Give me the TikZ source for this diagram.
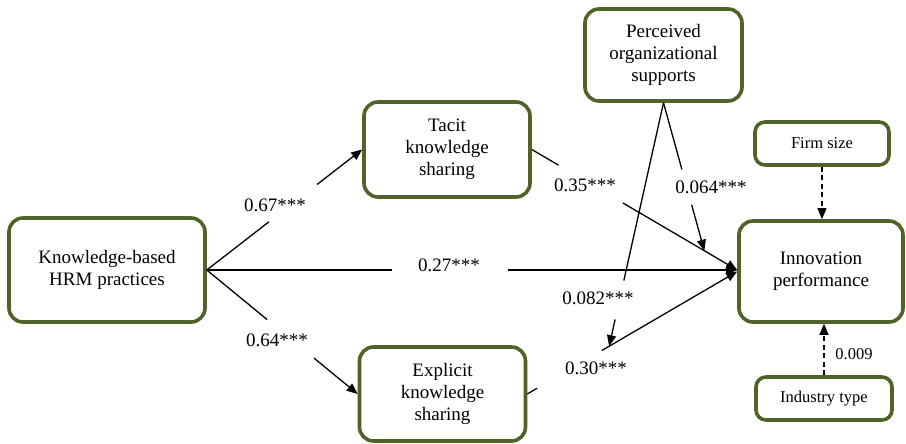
\documentclass[tikz,border=0pt]{standalone}
\usepackage{fontspec}
\setmainfont{Liberation Serif}
\usetikzlibrary{arrows.meta,calc}
\definecolor{boxgreen}{RGB}{79,98,40}
\begin{document}
\begin{tikzpicture}[x=1pt,y=-1pt,
  box/.style={draw=boxgreen, line width=3.6pt, rounded corners=14pt, fill=white, align=center, inner sep=2pt, font=\fontsize{19}{22}\selectfont},
  smallbox/.style={box, rounded corners=10pt, font=\fontsize{16.5}{19}\selectfont},
  conn/.style={line width=1.3pt, black},
  tip/.style={-{Triangle[length=11pt,width=9pt]}},
  dashline/.style={dash pattern=on 5pt off 3.5pt},
  lbl/.style={font=\fontsize{19}{22}\selectfont, inner sep=0pt},
  slbl/.style={font=\fontsize{16.5}{19}\selectfont, inner sep=0pt}]
\useasboundingbox (0,0) rectangle (906,444);

% boxes
\node[box, minimum width=196pt, minimum height=104pt] (hrm) at (107,270) {Knowledge-based\\HRM practices};
\node[box, minimum width=166pt, minimum height=95pt] (tacit) at (447,149.5) {Tacit\\knowledge\\sharing};
\node[box, minimum width=166pt, minimum height=94pt] (expl) at (442.5,394) {Explicit\\knowledge\\sharing};
\node[box, minimum width=157pt, minimum height=92pt] (perc) at (663.5,55) {Perceived\\organizational\\supports};
\node[box, minimum width=164pt, minimum height=101pt] (innov) at (821,271.5) {Innovation\\performance};
\node[smallbox, minimum width=134pt, minimum height=43pt] (firm) at (822,143.5) {Firm size};
\node[smallbox, minimum width=136pt, minimum height=43pt] (ind) at (824,398.5) {Industry type};

\coordinate (iw) at (hrm.east -| innov.west);

% HRM -> tacit
\draw[conn] (hrm.east) -- ($(hrm.east)!0.40!(tacit.west)$);
\draw[conn,tip] ($(hrm.east)!0.71!(tacit.west)$) -- (tacit.west);
\node[lbl] (l1) at (275,205) {0.67***};

% HRM -> explicit
\draw[conn] (hrm.east) -- ($(hrm.east)!0.40!(expl.west)$);
\draw[conn,tip] ($(hrm.east)!0.71!(expl.west)$) -- (expl.west);
\node[lbl] (l2) at (277,340) {0.64***};

% HRM -> innovation
\draw[conn] (hrm.east) -- ($(hrm.east)!0.35!(iw)$);
\draw[conn,tip] ($(hrm.east)!0.567!(iw)$) -- (iw);
\node[lbl] (l3) at (449,265) {0.27***};

% tacit -> innovation
\draw[conn] (tacit.east) -- ($(tacit.east)!0.13!(iw)$);
\draw[conn,tip] ($(tacit.east)!0.444!(iw)$) -- (iw);
\node[lbl] (l4) at (585,185) {0.35***};

% explicit -> innovation
\draw[conn] (expl.east) -- ($(expl.east)!0.047!(innov.west)$);
\draw[conn,tip] ($(expl.east)!0.355!(innov.west)$) -- (innov.west);
\node[lbl] (l5) at (596,368) {0.30***};

% moderation
\coordinate (m1) at ($(tacit.east)!0.84!(iw)$);
\coordinate (m2) at ($(expl.east)!0.39!(innov.west)$);
\draw[conn] (perc.south) -- ($(perc.south)!0.45!(m1)$);
\draw[conn,tip] ($(perc.south)!0.69!(m1)$) -- (m1);
\node[lbl] (l6) at (711,187) {0.064***};
\draw[conn] (perc.south) -- ($(perc.south)!0.73!(m2)$);
\draw[conn,tip] ($(perc.south)!0.89!(m2)$) -- (m2);
\node[lbl] (l7) at (598,298) {0.082***};

% controls
\draw[conn,dashline,tip] (firm.south) -- (firm.south |- innov.north);
\draw[conn,dashline,tip] (ind.north) -- (ind.north |- innov.south);
\node[slbl] (l8) at (854,354) {0.009};
\end{tikzpicture}
\end{document}
